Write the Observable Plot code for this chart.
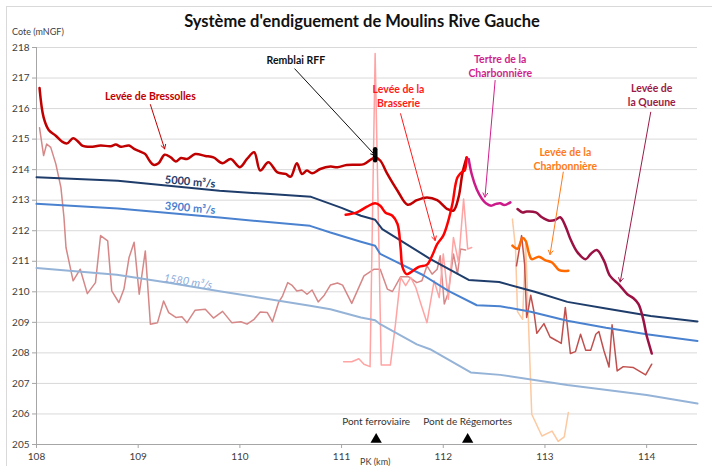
<!DOCTYPE html>
<html><head><meta charset="utf-8">
<script src="https://cdn.jsdelivr.net/npm/d3@7"></script>
<script src="https://cdn.jsdelivr.net/npm/@observablehq/plot@0.6"></script>
<style>
body{margin:0;background:#fff;}
#wrap{position:relative;width:712px;height:466px;overflow:hidden;font-family:Lato,sans-serif;}
#frame{position:absolute;left:6px;top:6px;width:720px;height:480px;border:1px solid #d9d9d9;}
#title{position:absolute;top:11px;left:0;width:724px;text-align:center;font-weight:bold;font-size:16.5px;color:#111;}
#ylab{position:absolute;left:12px;top:26px;font-size:9px;color:#404040;}
#xlab{position:absolute;left:360px;top:456px;font-size:9px;color:#404040;}
#chart{position:absolute;left:0;top:0;}
</style></head>
<body><div id="wrap"><div id="frame"></div><div id="chart"></div>
<div id="title">Système d'endiguement de Moulins Rive Gauche</div>
<div id="ylab">Cote (mNGF)</div><div id="xlab">PK (km)</div></div>
<script>
// ---- data ----
const xTicks = [108,109,110,111,112,113,114];
const yTicks = [205,206,207,208,209,210,211,212,213,214,215,216,217,218];

const pk5000 = [108,108.8,109.3,109.8,110.3,110.7,111.0,111.19,111.33,111.4,111.87,112.25,112.55,112.9,113.22,113.6,114.04,114.5];
const z5000  = [213.75,213.64,213.47,213.31,213.2,213.11,212.75,212.49,212.36,212.05,211.08,210.39,210.32,210.0,209.67,209.45,209.21,209.03];
const pk3900 = [108,108.8,109.8,110.69,110.89,111.19,111.33,111.38,111.8,112.05,112.33,112.56,112.86,113.22,113.6,114.0,114.5];
const z3900  = [212.88,212.73,212.43,212.16,211.94,211.64,211.51,211.24,210.55,210.03,209.56,209.53,209.35,209.05,208.82,208.61,208.39];
const pk1580 = [108,108.79,109.3,109.8,110.69,110.89,111.19,111.33,111.38,111.74,111.87,112.27,112.56,113.22,114.0,114.5];
const z1580  = [210.78,210.56,210.3,210.02,209.54,209.43,209.16,209.07,208.94,208.28,208.12,207.36,207.28,206.95,206.62,206.34];

const pkBressolles = [108.03,108.07,108.12,108.19,108.25,108.30,108.36,108.40,108.45,108.53,108.63,108.73,108.78,108.83,108.91,108.96,109.02,109.07,109.11,109.15,109.20,109.26,109.32,109.37,109.42,109.48,109.56,109.66,109.74,109.83,109.91,110.00,110.07,110.14,110.20,110.28,110.37,110.45,110.50,110.56,110.61,110.66,110.71,110.79,110.89,110.96,111.05,111.15,111.22,111.33,111.38,111.45,111.55,111.65,111.74,111.84,111.94,112.04,112.10,112.15,112.19,112.23];
const zBressolles  = [216.67,215.71,215.30,215.11,214.92,214.86,215.03,214.95,214.79,214.75,214.79,214.77,214.82,214.75,214.79,214.68,214.59,214.51,214.30,214.16,214.21,214.49,214.40,214.27,214.38,214.35,214.51,214.45,214.40,214.21,214.35,214.08,214.35,214.57,213.97,214.24,213.91,213.86,213.77,214.21,213.86,213.97,213.88,214.02,214.10,214.08,214.15,214.16,214.18,214.40,214.30,213.86,213.31,212.85,213.00,213.09,213.00,212.71,212.66,213.09,213.91,214.40];

const pkBrasserie = [111.04,111.15,111.25,111.33,111.38,111.43,111.50,111.55,111.58,111.60,111.64,111.69,111.76,111.84,111.89,111.94,112.00,112.05,112.09,112.14,112.19,112.21,112.23];
const zBrasserie  = [212.52,212.60,212.79,212.90,212.82,212.60,212.49,212.22,211.45,210.80,210.58,210.66,210.82,210.89,211.18,211.56,211.84,212.33,212.88,213.75,213.94,213.97,214.40];

const pkTertre = [112.25,112.28,112.33,112.38,112.42,112.47,112.52,112.56,112.60,112.66];
const zTertre  = [214.35,213.85,213.35,213.05,212.90,212.82,212.88,212.90,212.84,212.93];

const pkQueune = [112.73,112.78,112.82,112.91,112.97,113.04,113.10,113.15,113.20,113.25,113.32,113.40,113.45,113.51,113.58,113.64,113.73,113.81,113.87,113.92,113.97,114.00,114.05];
const zQueune  = [212.71,212.60,212.63,212.60,212.44,212.33,212.35,212.44,212.16,211.73,211.29,211.07,211.24,211.37,211.02,210.52,210.23,209.92,209.79,209.60,209.05,208.56,207.98];

const pkCharbonniere = [112.68,112.73,112.78,112.81,112.84,112.87,112.94,113.00,113.07,113.14,113.23];
const zCharbonniere  = [211.51,211.41,211.76,211.67,211.29,211.07,211.15,211.04,210.96,210.71,210.69];

const pkTN1 = [108.03,108.07,108.10,108.14,108.19,108.24,108.27,108.29,108.36,108.43,108.50,108.58,108.63,108.70,108.74,108.81,108.86,108.91,108.96,109.01,109.07,109.12,109.19,109.25,109.30,109.37,109.43,109.48,109.56,109.66,109.74,109.83,109.92,110.01,110.07,110.14,110.20,110.27,110.32,110.38,110.42,110.47,110.51,110.56,110.61,110.66,110.71,110.77,110.83,110.89,110.96,111.01,111.10,111.22,111.32,111.38,111.45,111.50,111.58,111.66,111.74,111.79,111.84,111.89,111.94,111.97,112.01,112.05,112.10,112.14,112.17,112.22];
const zTN1  = [215.37,214.46,214.84,214.73,214.19,213.42,212.44,211.45,210.36,210.74,209.94,210.30,211.84,211.67,210.03,209.65,210.09,211.12,211.62,209.92,211.34,208.94,208.99,209.70,209.32,209.16,209.18,208.99,209.40,209.43,209.14,209.36,208.99,209.02,208.94,209.10,209.34,209.32,209.02,209.65,209.87,210.30,210.22,210.03,210.06,209.92,210.06,209.67,209.89,210.22,210.29,210.22,209.62,210.52,210.74,210.74,210.09,210.01,210.49,210.49,210.30,210.36,210.85,210.58,210.74,211.18,209.60,209.98,211.24,210.58,211.40,211.37];

const pkTN2 = [111.02,111.10,111.17,111.22,111.28,111.33,111.39,111.41,111.48,111.53,111.58,111.63,111.68,111.73,111.78,111.84,111.91,111.96,112.00,112.05,112.10,112.15,112.20,112.24,112.28];
const zTN2  = [207.71,207.71,207.81,207.63,207.55,217.80,207.60,207.60,207.60,208.94,210.47,210.20,210.47,210.14,209.60,208.99,210.36,209.81,211.24,209.76,211.78,210.96,213.04,211.40,211.45];

const pkTN3 = [112.68,112.71,112.73,112.78,112.81,112.87,112.97,113.07,113.13,113.19,113.23];
const zTN3  = [212.38,211.45,209.35,209.10,211.60,205.99,205.28,205.44,205.10,205.25,206.05];

const pkTN4 = [112.72,112.77,112.80,112.82,112.84,112.86,112.89,112.92,112.99,113.05,113.12,113.16,113.20,113.25,113.30,113.35,113.40,113.45,113.50,113.53,113.58,113.63,113.66,113.71,113.77,113.87,113.99,114.05];
const zTN4  = [210.85,211.84,210.90,209.16,209.49,209.89,209.38,208.64,208.96,208.52,208.39,208.31,209.49,207.98,208.04,208.61,208.09,208.09,208.61,208.70,208.07,207.54,208.92,207.41,207.55,207.52,207.28,207.63];

const bridgeNames = ["Pont ferroviaire","Pont de Régemortes"];
const bridgePK = [111.34, 112.24];

const seriesLabels = ["5000 m³/s","3900 m³/s","1580 m³/s"];

// annotations (label, anchor, arrow) in data coordinates
const notes = [
  {text:"Levée de Bressolles", color:"#c00000", x:109.12, y:216.43, x1:109.12, y1:216.13, x2:109.26, y2:214.68},
  {text:"Remblai RFF", color:"#111111", x:110.55, y:217.6, x1:110.54, y1:217.30, x2:111.33, y2:214.47},
  {text:"Levée de la\nBrasserie", color:"#ff1a1a", x:111.56, y:216.44, x1:111.58, y1:215.83, x2:111.92, y2:211.68},
  {text:"Tertre de la\nCharbonnière", color:"#d01f8c", x:112.56, y:217.4, x1:112.51, y1:216.92, x2:112.41, y2:213.10},
  {text:"Levée de la\nCharbonnière", color:"#ff7a1a", x:113.2, y:214.37, x1:113.18, y1:213.92, x2:113.05, y2:211.22},
  {text:"Levée de\nla Queune", color:"#9b1b48", x:114.05, y:216.47, x1:114.04, y1:215.88, x2:113.74, y2:210.32}
];

const zip = (a,b) => a.map((v,i)=>({pk:v, z:b[i]}));
const line = (a,b,stroke,w,curve) => Plot.line(zip(a,b), {x:"pk", y:"z", stroke, strokeWidth:w, curve: curve||"linear", strokeLinejoin:"round", strokeLinecap:"round"});

const chart = Plot.plot({
  width:712, height:466,
  marginLeft:36, marginRight:15, marginTop:47, marginBottom:22,
  x:{domain:[108,114.5]},
  y:{domain:[205,218]},
  style:{fontFamily:"Lato, sans-serif", fontSize:"10px", background:"transparent", color:"#404040"},
  marks:[
    Plot.gridY(yTicks, {stroke:"#d9d9d9", strokeOpacity:1}),
    Plot.ruleX([108], {stroke:"#a6a6a6"}),
    Plot.ruleY([205], {stroke:"#a6a6a6"}),
    Plot.axisY({ticks:yTicks, tickSize:4, tickPadding:3, stroke:"#a6a6a6", fill:"#404040", label:null}),
    Plot.axisX({ticks:xTicks, tickSize:4, tickPadding:4, stroke:"#a6a6a6", fill:"#404040", label:null, tickFormat:d=>String(d)}),
    // terrain lines
    line(pkTN1, zTN1, "#d68787", 1.5),
    line(pkTN2, zTN2, "#ffa3a3", 1.5),
    line(pkTN3, zTN3, "#fcc9a0", 1.5),
    line(pkTN4, zTN4, "#c0504d", 1.5),
    // discharge water lines
    line(pk1580, z1580, "#95b3d7", 2),
    line(pk3900, z3900, "#4a82d0", 2),
    line(pk5000, z5000, "#1f3d6b", 2),
    // levees
    line(pkBressolles, zBressolles, "#c00000", 2.5, "catmull-rom"),
    line(pkBrasserie, zBrasserie, "#ff0000", 2.5, "catmull-rom"),
    line(pkTertre, zTertre, "#cc1a8a", 2.5, "catmull-rom"),
    line(pkQueune, zQueune, "#9b1143", 2.5, "catmull-rom"),
    line(pkCharbonniere, zCharbonniere, "#ff6a00", 2.5, "catmull-rom"),
    // RFF marker
    Plot.ruleX([notes[1]], {x:"x2", y1:d=>d.y2-0.18, y2:d=>d.y2+0.18, stroke:"#000", strokeWidth:4.5, strokeLinecap:"round"}),
    // arrows
    Plot.arrow(notes, {x1:"x1", y1:"y1", x2:"x2", y2:"y2", stroke:"color", strokeWidth:1, headLength:7, inset:0}),
    Plot.text(notes, {x:"x", y:"y", text:"text", fill:"color", fontWeight:"bold", fontSize:10.5, lineHeight:1.35, textAnchor:"middle"}),
    // series labels
    Plot.text([seriesLabels[0]], {x:[109.51], y:[213.6], text:d=>d, fill:"#1f3d6b", fontWeight:"bold", fontSize:11, rotate:5}),
    Plot.text([seriesLabels[1]], {x:[109.51], y:[212.74], text:d=>d, fill:"#4a82d0", fontWeight:"bold", fontSize:11, rotate:5}),
    Plot.text([seriesLabels[2]], {x:[109.49], y:[210.33], text:d=>d, fill:"#8eaedb", fontStyle:"italic", fontSize:11, rotate:9}),
    // bridges
    Plot.dot(bridgePK, {x:d=>d, frameAnchor:"bottom", dy:-5, symbol:"triangle", r:4.2, fill:"#000", stroke:null}),
    Plot.text(bridgePK, {x:d=>d, frameAnchor:"bottom", dy:-20, text:(d,i)=>bridgeNames[i], fill:"#333", fontSize:10})
  ]
});
document.getElementById("chart").appendChild(chart);
</script></body></html>
